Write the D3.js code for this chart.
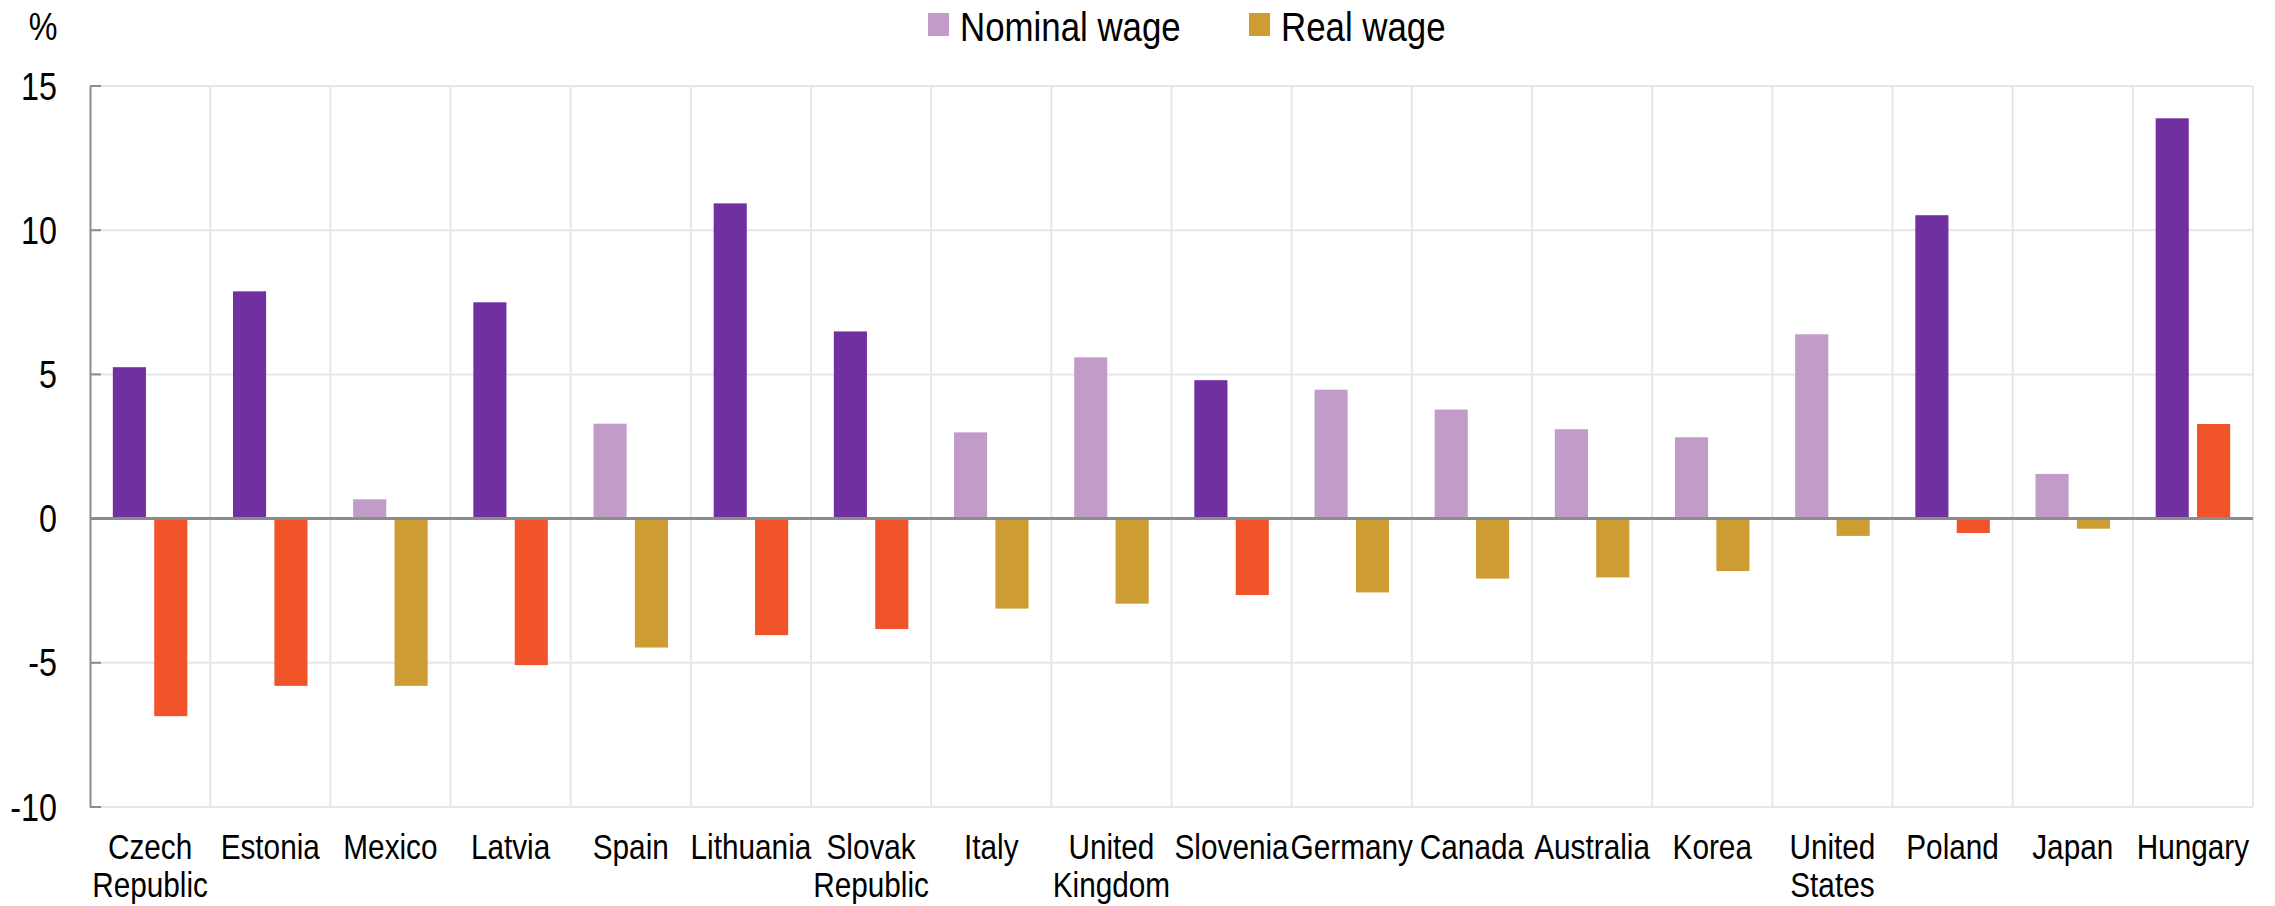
<!DOCTYPE html>
<html>
<head>
<meta charset="utf-8">
<script src="https://cdn.jsdelivr.net/npm/d3@7"></script>
<style>
  body { margin: 0; background: #fff; }
  svg text { font-family: "Liberation Sans", Arial, sans-serif; fill: #000; }
</style>
</head>
<body>
<div id="chart"></div>
<script>
// chart data
var countries = ["Czech Republic", "Estonia", "Mexico", "Latvia", "Spain", "Lithuania",
  "Slovak Republic", "Italy", "United Kingdom", "Slovenia", "Germany", "Canada",
  "Australia", "Korea", "United States", "Poland", "Japan", "Hungary"];
var nominalWage = [5.25, 7.88, 0.67, 7.50, 3.29, 10.93, 6.49, 2.99, 5.59, 4.80, 4.47, 3.78,
  3.10, 2.82, 6.39, 10.52, 1.55, 13.88];
var realWage = [-6.85, -5.80, -5.80, -5.08, -4.47, -4.04, -3.83, -3.12, -2.95, -2.65, -2.56, -2.08,
  -2.04, -1.82, -0.60, -0.50, -0.35, 3.28];
// countries drawn in the darker colours
var highlighted = ["Czech Republic", "Estonia", "Latvia", "Lithuania", "Slovak Republic",
  "Slovenia", "Poland", "Hungary"];
var seriesNames = ["Nominal wage", "Real wage"];
var yTicks = [-10, -5, 0, 5, 10, 15];

var svgWidth = 2275;
var svgHeight = 906;
var margin = { top: 86, right: 22, bottom: 99, left: 90 };
var w = svgWidth - margin.left - margin.right;
var h = svgHeight - margin.top - margin.bottom;
var squeeze = 0.85; // narrow font look

var colors = {
  nominal: { light: "#C19CC8", dark: "#7030A0" },
  real: { light: "#CD9C33", dark: "#F05428" }
};

var svg = d3.select("#chart")
  .append("svg")
  .attr("width", svgWidth)
  .attr("height", svgHeight);

var chartGroup = svg.append("g")
  .attr("transform", `translate(${margin.left}, ${margin.top})`);

// text drawn squeezed horizontally
function narrowText(parent, x, y, anchor, size) {
  return parent.append("g")
    .attr("transform", `translate(${x}, ${y})`)
    .append("text")
    .attr("transform", `scale(${squeeze}, 1)`)
    .attr("text-anchor", anchor)
    .attr("font-size", size);
}

var data = countries.map(function (c, i) {
  return { country: c, nominal: nominalWage[i], real: realWage[i], hi: highlighted.indexOf(c) >= 0 };
});

// scales
var xScale = d3.scaleBand().domain(countries).range([0, w]).padding(0);
var subScale = d3.scaleBand().domain(["nominal", "real"])
  .range([xScale.bandwidth() * 0.19, xScale.bandwidth() * 0.81])
  .paddingInner(0.2);
var yScale = d3.scaleLinear().domain([-10, 15]).range([h, 0]);

// horizontal gridlines
chartGroup.append("g")
  .selectAll("line")
  .data(yTicks)
  .enter()
  .append("line")
  .attr("x1", 0)
  .attr("x2", w)
  .attr("y1", d => yScale(d))
  .attr("y2", d => yScale(d))
  .attr("stroke", "#e6e6e6")
  .attr("stroke-width", 2);

// vertical gridlines at category edges
var edges = countries.slice(1).map(d => xScale(d)).concat([w]);
chartGroup.append("g")
  .selectAll("line")
  .data(edges)
  .enter()
  .append("line")
  .attr("x1", d => d)
  .attr("x2", d => d)
  .attr("y1", 0)
  .attr("y2", h)
  .attr("stroke", "#e6e6e6")
  .attr("stroke-width", 2);

// bars
var groups = chartGroup.selectAll(".country")
  .data(data)
  .enter()
  .append("g")
  .attr("transform", d => `translate(${xScale(d.country)}, 0)`);

["nominal", "real"].forEach(function (key) {
  groups.append("rect")
    .attr("x", subScale(key))
    .attr("width", subScale.bandwidth())
    .attr("y", d => yScale(Math.max(0, d[key])))
    .attr("height", d => Math.abs(yScale(d[key]) - yScale(0)))
    .attr("fill", d => d.hi ? colors[key].dark : colors[key].light);
});

// y axis line
var leftAxis = d3.axisLeft(yScale).tickValues(yTicks).tickSize(0).tickFormat("");
var yAxisG = chartGroup.append("g").call(leftAxis);
yAxisG.select(".domain").attr("stroke", "#8c8c8c").attr("stroke-width", 2);

// tick labels
yTicks.forEach(function (t) {
  narrowText(chartGroup, -33, yScale(t), "end", 38)
    .attr("dy", "0.36em")
    .text(String(t));
});

// small inward tick marks
chartGroup.append("g")
  .selectAll("line")
  .data(yTicks)
  .enter()
  .append("line")
  .attr("x1", 0)
  .attr("x2", 11)
  .attr("y1", d => yScale(d))
  .attr("y2", d => yScale(d))
  .attr("stroke", "#8c8c8c")
  .attr("stroke-width", 2);

// zero line
chartGroup.append("line")
  .attr("x1", 0)
  .attr("x2", w)
  .attr("y1", yScale(0))
  .attr("y2", yScale(0))
  .attr("stroke", "#8c8c8c")
  .attr("stroke-width", 3);

// country labels
countries.forEach(function (d) {
  var cx = xScale(d) + xScale.bandwidth() / 2;
  var t = narrowText(chartGroup, cx, h + 52, "middle", 35);
  d.split(" ").forEach(function (line, i) {
    t.append("tspan")
      .attr("x", 0)
      .attr("dy", i === 0 ? 0 : 38)
      .text(line);
  });
});

// unit label
narrowText(svg, 43, 40, "middle", 38).text("%");

// legend
var legendX = [928, 1249];
var legend = svg.append("g");
seriesNames.forEach(function (name, i) {
  legend.append("rect")
    .attr("x", legendX[i])
    .attr("y", 13)
    .attr("width", 21)
    .attr("height", 23)
    .attr("fill", i === 0 ? colors.nominal.light : colors.real.light);
  narrowText(legend, legendX[i] + 32, 41, "start", 41).text(name);
});
</script>
</body>
</html>
